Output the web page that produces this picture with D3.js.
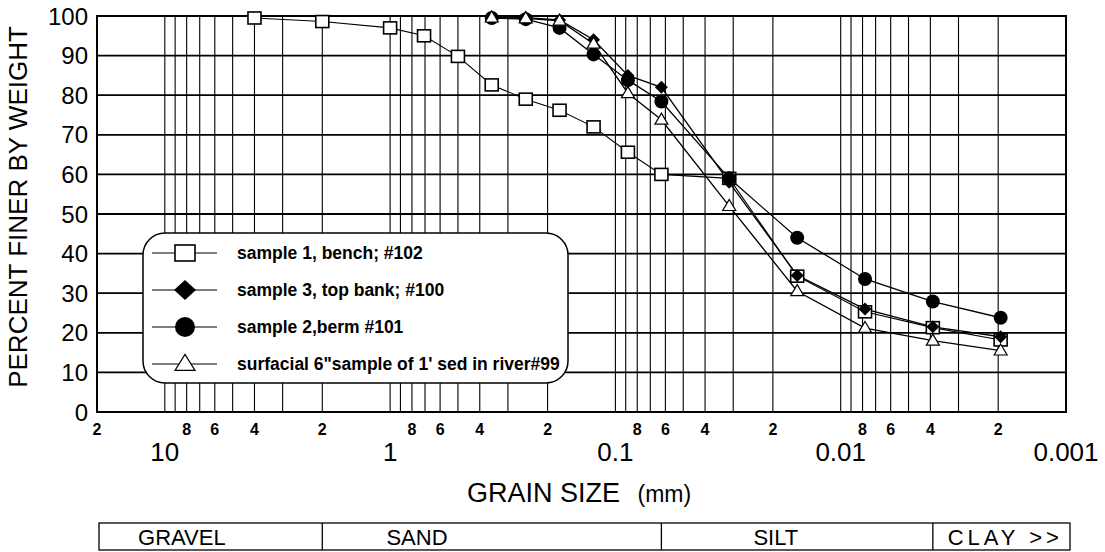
<!DOCTYPE html>
<html><head><meta charset="utf-8">
<script src="https://cdn.jsdelivr.net/npm/d3@7"></script>
<style>
body{margin:0;background:#fff}
svg{display:block}
text{font-family:"Liberation Sans",Arial,Helvetica,sans-serif;fill:#000}
</style>
</head><body>
<svg id="chart" width="1105" height="552"></svg>
<script>
// ---- data ----
const coarseSizes = [4, 2, 1, 0.707, 0.5, 0.354, 0.25, 0.177, 0.125, 0.088, 0.0625, 0.03125, 0.0156, 0.0078, 0.0039, 0.00195];
const fineSizes   = [0.354, 0.25, 0.177, 0.125, 0.088, 0.0625, 0.03125, 0.0156, 0.0078, 0.0039, 0.00195];
const bench102     = [99.5, 98.6, 97, 95, 89.8, 82.6, 79, 76.2, 72, 65.6, 60, 59, 34.3, 25.3, 21.3, 18.2];
const topBank100   = [99.8, 99.6, 99, 94, 85, 82, 58, 34.5, 26, 21.5, 19];
const berm101      = [99.5, 99.2, 97, 90.3, 83.8, 78.4, 59, 44, 33.6, 27.9, 23.8];
const surficial99  = [99.6, 99.4, 98.8, 93, 80.5, 73.8, 52, 30.5, 21.2, 18, 15.5];
const seriesNames  = ["sample 1, bench; #102", "sample 3, top bank; #100", "sample 2,berm #101", "surfacial 6\"sample of 1' sed in river#99"];
const seriesSymbols = ["square", "diamond", "circle", "triangle"];
const yTicks = [0, 10, 20, 30, 40, 50, 60, 70, 80, 90, 100];
const majorTicks  = [10, 1, 0.1, 0.01, 0.001];
const majorLabels = ["10", "1", "0.1", "0.01", "0.001"];
const minorDigits = [8, 6, 4, 2];
const zoneEdges  = [20, 2, 0.0625, 0.0039, 0.001];
const zoneNames  = ["GRAVEL", "SAND", "SILT", "CLAY >>"];
const zoneLabelAt = [8.4, 0.76, 0.0194, 0.00186];

// ---- layout ----
const svg = d3.select("#chart");
const x = d3.scaleLog().domain([20, 0.001]).range([97, 1066]);
const y = d3.scaleLinear().domain([0, 100]).range([412, 16]);

// vertical grid lines
const gridVals = [];
for (let k = -3; k <= 1; k++) for (let m = 1; m <= 9; m++) {
  const v = m * Math.pow(10, k);
  if (v >= 0.001 && v <= 20.0001) gridVals.push(v);
}
svg.append("g").selectAll("line").data(gridVals).join("line")
  .attr("x1", d => x(d)).attr("x2", d => x(d))
  .attr("y1", y(100)).attr("y2", y(0))
  .attr("stroke", "#000").attr("stroke-width", 1.1);

// horizontal grid lines
svg.append("g").selectAll("line").data(yTicks).join("line")
  .attr("x1", x(20)).attr("x2", x(0.001))
  .attr("y1", d => y(d)).attr("y2", d => y(d))
  .attr("stroke", "#000").attr("stroke-width", 1.8);

// frame
svg.append("rect").attr("x", x(20)).attr("y", y(100))
  .attr("width", x(0.001) - x(20)).attr("height", y(0) - y(100))
  .attr("fill", "none").attr("stroke", "#000").attr("stroke-width", 2);

// y labels
svg.append("g").selectAll("text").data(yTicks).join("text")
  .attr("x", 88).attr("y", d => y(d)).attr("dy", "0.36em")
  .attr("text-anchor", "end").attr("font-size", 24).text(d => d);

// y title
svg.append("text").attr("transform", "translate(27,207) rotate(-90)")
  .attr("text-anchor", "middle").attr("font-size", 26).text("PERCENT FINER BY WEIGHT");

// minor x labels
const minorVals = [];
for (let k = -3; k <= 1; k++) minorDigits.forEach(m => {
  const v = m * Math.pow(10, k);
  if (v >= 0.001 && v <= 20.0001) minorVals.push({v, m});
});
svg.append("g").selectAll("text").data(minorVals).join("text")
  .attr("x", d => x(d.v)).attr("y", 435).attr("text-anchor", "middle")
  .attr("font-size", 16).attr("font-weight", "bold").text(d => d.m);

// major x labels
svg.append("g").selectAll("text").data(majorTicks).join("text")
  .attr("x", d => x(d)).attr("y", 461).attr("text-anchor", "middle")
  .attr("font-size", 26).text((d, i) => majorLabels[i]);

// x title
const xt = svg.append("text").attr("x", 467).attr("y", 502);
xt.append("tspan").attr("font-size", 27).text("GRAIN SIZE ");
xt.append("tspan").attr("font-size", 23).attr("dx", 10).text("(mm)");

// zone table
const tTop = 523, tBot = 550;
svg.append("rect").attr("x", x(20) + 2).attr("y", tTop)
  .attr("width", x(0.001) + 4 - x(20) - 2).attr("height", tBot - tTop)
  .attr("fill", "none").attr("stroke", "#000").attr("stroke-width", 1.3);
svg.append("g").selectAll("line").data(zoneEdges.slice(1, -1)).join("line")
  .attr("x1", d => x(d)).attr("x2", d => x(d)).attr("y1", tTop).attr("y2", tBot)
  .attr("stroke", "#000").attr("stroke-width", 1.3);
svg.append("g").selectAll("text").data(zoneNames).join("text")
  .attr("x", (d, i) => x(zoneLabelAt[i])).attr("y", 545).attr("text-anchor", "middle")
  .attr("font-size", 22).attr("letter-spacing", (d, i) => i === 3 ? 4 : 0).text(d => d);

// ---- series ----
const series = [
  {sizes: coarseSizes, vals: bench102},
  {sizes: fineSizes, vals: topBank100},
  {sizes: fineSizes, vals: berm101},
  {sizes: fineSizes, vals: surficial99}
];
const line = d3.line().x(d => x(d[0])).y(d => y(d[1]));

function marker(g, type, cx, cy, s) {
  if (type === "square") {
    g.append("rect").attr("x", cx - s.w / 2).attr("y", cy - s.h / 2).attr("width", s.w).attr("height", s.h)
      .attr("fill", "#fff").attr("stroke", "#000").attr("stroke-width", 1.6);
  } else if (type === "diamond") {
    g.append("path").attr("d", `M${cx},${cy - s.h / 2}L${cx + s.w / 2},${cy}L${cx},${cy + s.h / 2}L${cx - s.w / 2},${cy}Z`)
      .attr("fill", "#000");
  } else if (type === "circle") {
    g.append("circle").attr("cx", cx).attr("cy", cy).attr("r", s.w / 2).attr("fill", "#000");
  } else {
    g.append("path").attr("d", `M${cx},${cy - s.h * 0.6}L${cx + s.w / 2},${cy + s.h * 0.4}L${cx - s.w / 2},${cy + s.h * 0.4}Z`)
      .attr("fill", "#fff").attr("stroke", "#000").attr("stroke-width", 1.2);
  }
}
const plotSize = {square: {w: 13, h: 12}, diamond: {w: 13, h: 13}, circle: {w: 14, h: 14}, triangle: {w: 13, h: 11}};

series.forEach((s, i) => {
  const pts = s.sizes.map((d, j) => [d, s.vals[j]]);
  svg.append("path").datum(pts).attr("d", line).attr("fill", "none")
    .attr("stroke", "#000").attr("stroke-width", i === 0 ? 1.1 : 1.3);
});
series.forEach((s, i) => {
  const g = svg.append("g");
  s.sizes.forEach((d, j) => marker(g, seriesSymbols[i], x(d), y(s.vals[j]), plotSize[seriesSymbols[i]]));
});

// ---- legend ----
const lg = svg.append("g");
lg.append("rect").attr("x", 143).attr("y", 233).attr("width", 425).attr("height", 150)
  .attr("rx", 22).attr("ry", 22).attr("fill", "#fff").attr("stroke", "#000").attr("stroke-width", 1.5);
const legSize = {square: {w: 20, h: 16}, diamond: {w: 22, h: 20}, circle: {w: 20, h: 20}, triangle: {w: 20, h: 16}};
const rowY = d3.scalePoint().domain(d3.range(seriesNames.length)).range([253, 364]);
seriesNames.forEach((name, i) => {
  const yy = rowY(i);
  lg.append("line").attr("x1", 152).attr("x2", 217).attr("y1", yy).attr("y2", yy)
    .attr("stroke", "#000").attr("stroke-width", 1.2);
  marker(lg, seriesSymbols[i], 185, yy, legSize[seriesSymbols[i]]);
  lg.append("text").attr("x", 237).attr("y", yy + 6).attr("font-size", 17.5)
    .attr("font-weight", "bold").text(name);
});
</script>
</body></html>
